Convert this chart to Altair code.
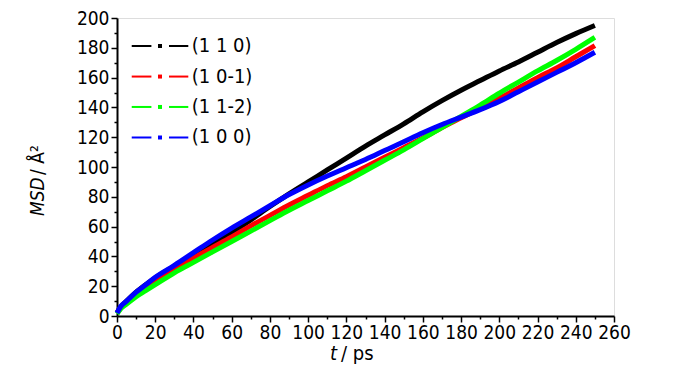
import altair as alt
import pandas as pd

# ---- data ----
t = [0, 2, 5, 10, 15, 20, 30, 40, 50, 60, 70, 80, 90, 100, 110, 120, 130, 140,
     150, 160, 170, 180, 190, 200, 210, 220, 230, 240, 250]
msd_110 = [2, 6, 10, 16, 21, 25.5, 33.5, 41.5, 48.5, 56, 64.5, 73.5, 82, 90,
           98, 106, 114, 121.5, 129, 137, 144.5, 151.5, 158, 164.5, 170.5, 177,
           183.5, 189.5, 195]
msd_10m1 = [2, 5.5, 9, 14.5, 19, 23, 31.5, 39, 46, 53, 60.5, 67.5, 74.5, 81,
            87.5, 93.5, 100, 106.5, 113, 119.5, 126.5, 133, 139.5, 146, 153,
            160, 166.5, 174, 181.5]
msd_11m2 = [1.5, 5, 8, 13, 17, 21, 29, 36, 43, 50, 57, 64, 71, 77.5, 84, 90.5,
            97.5, 104.5, 111.5, 119, 126.5, 134, 141.5, 149.5, 157, 164.5,
            171.5, 179, 187]
msd_100 = [2, 6.5, 10, 16, 21, 26, 34, 42.5, 51, 59, 66.5, 74, 81.5, 88, 94,
           99.5, 105, 111, 117, 123, 128.5, 133.5, 138.5, 144, 150.5, 157,
           163.5, 170, 177]
series_names = ["(1 1 0)", "(1 0-1)", "(1 1-2)", "(1 0 0)"]
series_colors = ["#000000", "#ff0000", "#00ff00", "#0000ff"]
x_major = list(range(0, 261, 20))
x_minor = list(range(10, 261, 20))
y_major = list(range(0, 201, 20))
y_minor = list(range(10, 201, 20))

FONT = "'Liberation Sans Narrow', 'DejaVu Sans Condensed', 'Liberation Sans', Arial, sans-serif"

rows = []
for name, vals in zip(series_names, [msd_110, msd_10m1, msd_11m2, msd_100]):
    for tt, v in zip(t, vals):
        rows.append({"series": name, "t": tt, "msd": v})
df = pd.DataFrame(rows)

xscale = alt.Scale(domain=[0, 260], nice=False, zero=False)
yscale = alt.Scale(domain=[0, 200], nice=False, zero=False)
cscale = alt.Scale(domain=series_names, range=series_colors)

common = dict(title=None, grid=False, tickColor="black", tickWidth=1.5,
              domainColor="black", domainWidth=2, labelFont=FONT,
              labelFontSize=19, labelColor="black", labelFlush=False,
              labelOverlap=False, labelBound=False)

xaxis = alt.Axis(values=x_major, orient="bottom", tickSize=6, labelPadding=1, **common)
yaxis = alt.Axis(values=y_major, orient="left", tickSize=6, labelPadding=2, **common)
xaxis_minor = alt.Axis(values=x_minor, orient="bottom", tickSize=3, labels=False,
                       domain=False, title=None, grid=False, tickColor="black",
                       tickWidth=1.5)
yaxis_minor = alt.Axis(values=y_minor, orient="left", tickSize=3, labels=False,
                       domain=False, title=None, grid=False, tickColor="black",
                       tickWidth=1.5)

lines = alt.Chart(df).mark_line(strokeWidth=5, interpolate="monotone").encode(
    x=alt.X("t:Q", scale=xscale, axis=xaxis),
    y=alt.Y("msd:Q", scale=yscale, axis=yaxis),
    color=alt.Color("series:N", scale=cscale, legend=None),
    detail="series:N",
)

minor = alt.Chart(df).mark_point(opacity=0).encode(
    x=alt.X("t:Q", scale=xscale, axis=xaxis_minor),
    y=alt.Y("msd:Q", scale=yscale, axis=yaxis_minor),
)

# ---- manual legend (placed in data units, top-left of the plot) ----
leg_rows = [181.2, 160.7, 140.3, 119.8]
leg = pd.DataFrame({"series": series_names, "ly": leg_rows})
ly = alt.Y("ly:Q", scale=yscale, axis=None)
seg1 = alt.Chart(leg).mark_rule(strokeWidth=2).encode(
    x=alt.datum(7.7, scale=xscale, axis=None), x2=alt.datum(18.0),
    y=ly, color=alt.Color("series:N", scale=cscale, legend=None),
)
seg2 = alt.Chart(leg).mark_rule(strokeWidth=2).encode(
    x=alt.datum(27.2, scale=xscale, axis=None), x2=alt.datum(37.3),
    y=ly, color=alt.Color("series:N", scale=cscale, legend=None),
)
sq = alt.Chart(leg).mark_square(size=16, opacity=1).encode(
    x=alt.datum(22.5, scale=xscale, axis=None),
    y=ly, color=alt.Color("series:N", scale=cscale, legend=None),
)
ltxt = alt.Chart(leg).mark_text(
    align="left", baseline="middle", font=FONT, fontSize=20, color="black", dx=1
).encode(
    x=alt.datum(38.6, scale=xscale, axis=None),
    y=ly, text="series:N",
)

# ---- axis titles as text (mixed italic) ----
title_df = pd.DataFrame({"a": [0]})
ytitle1 = alt.Chart(title_df).mark_text(
    text="MSD", angle=270, align="left", baseline="middle",
    font=FONT, fontSize=19, fontStyle="italic", color="black"
).encode(x=alt.value(-79), y=alt.value(198))
ytitle2 = alt.Chart(title_df).mark_text(
    text="/ Å²", angle=270, align="left", baseline="middle",
    font=FONT, fontSize=19, color="black"
).encode(x=alt.value(-79), y=alt.value(157))
xtitle1 = alt.Chart(title_df).mark_text(
    text="t", align="right", baseline="middle",
    font=FONT, fontSize=20, fontStyle="italic", color="black"
).encode(x=alt.value(220), y=alt.value(336))
xtitle2 = alt.Chart(title_df).mark_text(
    text="/ ps", align="left", baseline="middle",
    font=FONT, fontSize=20, color="black"
).encode(x=alt.value(224), y=alt.value(336))

chart = alt.layer(
    lines, minor, seg1, seg2, sq, ltxt, ytitle1, ytitle2, xtitle1, xtitle2
).resolve_axis(
    x="independent", y="independent"
).properties(
    width=497, height=298,
    autosize=alt.AutoSizeParams(type="none"),
    padding={"left": 109, "top": 10, "right": 78, "bottom": 58},
).configure_view(
    stroke="black", strokeWidth=2
).configure(background="white")

chart.save("out.html", embed_options={"renderer": "svg", "actions": False})
